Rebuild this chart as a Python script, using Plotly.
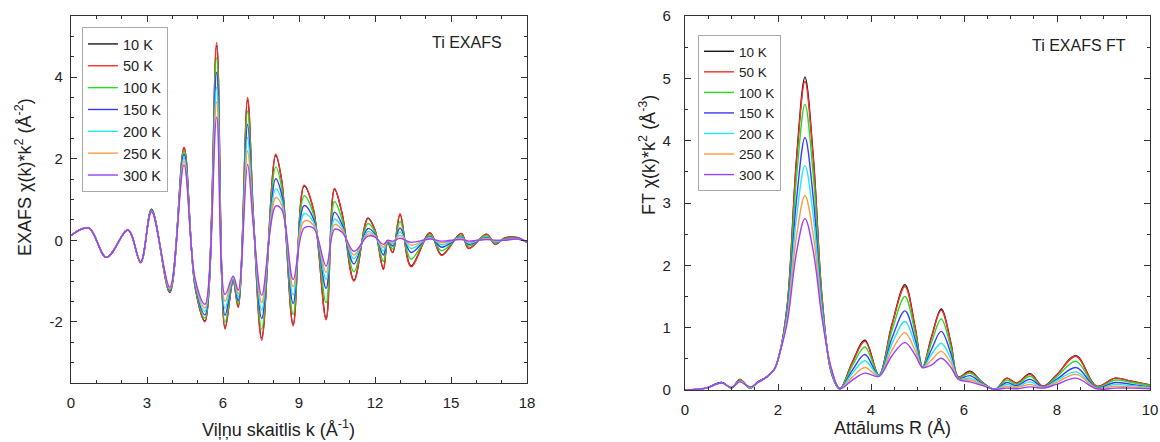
import plotly.graph_objects as go

# ---------------- data: EXAFS chi(k)*k^2 (extrema nodes) ----------------
k_values = [0.0, 0.7, 1.4, 2.25, 2.75, 3.18, 3.9, 4.46, 4.9, 5.29, 5.75, 6.08, 6.4, 6.6, 6.97, 7.2,
            7.53, 8.08, 8.32, 8.77, 9.2, 9.57, 10.07, 10.4, 10.7, 11.17, 11.72, 12.0, 12.33, 12.5,
            12.7, 12.99, 13.42, 14.17, 14.63, 15.4, 15.7, 16.4, 16.75, 17.1, 17.6, 18.0]

exafs_10K = [0.12, 0.30, -0.42, 0.25, -0.55, 0.76, -1.28, 2.26, -1.15, -1.98, 4.78, -2.15, -1.0, -1.63,
             3.45, 0.6, -2.4, 2.08, 1.45, -2.06, 1.33, 0.75, -1.92, 1.25, 0.66, -0.98, 0.54, 0.25,
             -0.7, -0.05, -0.3, 0.63, -0.63, 0.18, -0.36, 0.17, -0.2, 0.15, -0.1, 0.05, 0.07, -0.05]
exafs_50K = [0.12, 0.30, -0.42, 0.25, -0.55, 0.76, -1.28, 2.28, -1.15, -2.0, 4.85, -2.18, -1.0, -1.65,
             3.5, 0.6, -2.45, 2.12, 1.45, -2.1, 1.35, 0.75, -1.95, 1.27, 0.66, -1.0, 0.55, 0.25,
             -0.72, -0.05, -0.3, 0.65, -0.65, 0.18, -0.37, 0.17, -0.2, 0.15, -0.1, 0.05, 0.07, -0.05]
exafs_100K = [0.12, 0.30, -0.42, 0.25, -0.54, 0.75, -1.25, 2.19, -1.11, -1.91, 4.48, -2.01, -0.98, -1.56,
              3.17, 0.54, -2.18, 1.80, 1.28, -1.82, 1.09, 0.64, -1.53, 0.95, 0.51, -0.77, 0.41, 0.20,
              -0.52, -0.03, -0.21, 0.46, -0.46, 0.13, -0.26, 0.12, -0.14, 0.11, -0.07, 0.03, 0.06, -0.04]
exafs_150K = [0.12, 0.30, -0.42, 0.25, -0.54, 0.74, -1.23, 2.11, -1.07, -1.83, 4.12, -1.84, -0.95, -1.48,
              2.84, 0.48, -1.92, 1.51, 1.11, -1.55, 0.85, 0.53, -1.18, 0.69, 0.39, -0.58, 0.29, 0.15,
              -0.36, -0.02, -0.14, 0.30, -0.30, 0.09, -0.17, 0.08, -0.10, 0.07, -0.04, 0.02, 0.05, -0.04]
exafs_200K = [0.12, 0.30, -0.42, 0.25, -0.53, 0.72, -1.20, 2.02, -1.03, -1.74, 3.75, -1.67, -0.93, -1.39,
              2.52, 0.43, -1.71, 1.26, 0.98, -1.34, 0.65, 0.45, -0.96, 0.52, 0.32, -0.45, 0.21, 0.12,
              -0.26, -0.01, -0.09, 0.20, -0.20, 0.07, -0.11, 0.06, -0.07, 0.05, -0.03, 0.01, 0.04, -0.04]
exafs_250K = [0.12, 0.30, -0.42, 0.25, -0.53, 0.71, -1.18, 1.94, -0.99, -1.66, 3.39, -1.50, -0.90, -1.31,
              2.19, 0.39, -1.53, 1.05, 0.86, -1.14, 0.47, 0.37, -0.79, 0.39, 0.26, -0.36, 0.15, 0.10,
              -0.17, -0.01, -0.05, 0.12, -0.12, 0.05, -0.06, 0.04, -0.04, 0.04, -0.01, 0.01, 0.03, -0.03]
exafs_300K = [0.12, 0.30, -0.42, 0.25, -0.52, 0.70, -1.15, 1.85, -0.95, -1.57, 3.02, -1.33, -0.88, -1.22,
              1.86, 0.35, -1.35, 0.84, 0.75, -0.96, 0.30, 0.30, -0.63, 0.27, 0.20, -0.27, 0.10, 0.08,
              -0.10, 0.0, -0.02, 0.05, -0.05, 0.03, -0.02, 0.02, -0.02, 0.02, 0.0, 0.0, 0.03, -0.03]

# ---------------- data: FT magnitude ----------------
r_values = [0.0, 0.45, 0.79, 1.0, 1.18, 1.4, 1.57, 1.76, 1.92, 2.04, 2.2, 2.4, 2.58, 2.76, 2.95, 3.15,
            3.33, 3.6, 3.87, 4.17, 4.45, 4.73, 4.95, 5.11, 5.3, 5.51, 5.72, 5.88, 6.13, 6.4, 6.67,
            6.92, 7.13, 7.42, 7.7, 7.99, 8.41, 8.85, 9.25, 9.6, 10.0]

ft_10K = [0.0, 0.03, 0.12, 0.03, 0.17, 0.03, 0.13, 0.21, 0.33, 0.6, 1.37, 3.73, 5.02, 3.73, 1.46, 0.27,
          0.02, 0.45, 0.80, 0.24, 1.05, 1.69, 1.0, 0.37, 0.85, 1.30, 0.75, 0.21, 0.30, 0.12, 0.01,
          0.19, 0.11, 0.26, 0.06, 0.24, 0.55, 0.06, 0.19, 0.14, 0.08]
ft_50K = [0.0, 0.03, 0.12, 0.03, 0.17, 0.03, 0.13, 0.21, 0.33, 0.6, 1.36, 3.69, 4.95, 3.69, 1.45, 0.27,
          0.02, 0.44, 0.78, 0.24, 1.04, 1.66, 0.99, 0.37, 0.84, 1.28, 0.74, 0.21, 0.29, 0.12, 0.01,
          0.19, 0.11, 0.25, 0.06, 0.24, 0.54, 0.06, 0.19, 0.14, 0.08]
ft_100K = [0.0, 0.03, 0.12, 0.03, 0.16, 0.03, 0.13, 0.21, 0.33, 0.6, 1.31, 3.43, 4.58, 3.43, 1.40, 0.28,
           0.02, 0.39, 0.69, 0.24, 0.95, 1.50, 0.91, 0.37, 0.76, 1.14, 0.67, 0.20, 0.27, 0.11, 0.01,
           0.16, 0.09, 0.22, 0.05, 0.21, 0.46, 0.05, 0.16, 0.12, 0.07]
ft_150K = [0.0, 0.03, 0.12, 0.04, 0.15, 0.04, 0.13, 0.21, 0.33, 0.6, 1.25, 3.07, 4.05, 3.07, 1.32, 0.30,
           0.02, 0.32, 0.57, 0.23, 0.83, 1.27, 0.81, 0.36, 0.65, 0.94, 0.58, 0.19, 0.23, 0.10, 0.01,
           0.12, 0.07, 0.17, 0.05, 0.17, 0.36, 0.04, 0.12, 0.09, 0.05]
ft_200K = [0.0, 0.03, 0.11, 0.04, 0.14, 0.04, 0.12, 0.21, 0.33, 0.6, 1.19, 2.78, 3.60, 2.78, 1.26, 0.31,
           0.02, 0.27, 0.47, 0.23, 0.74, 1.10, 0.72, 0.36, 0.57, 0.75, 0.50, 0.18, 0.19, 0.09, 0.01,
           0.09, 0.05, 0.13, 0.04, 0.15, 0.29, 0.03, 0.09, 0.07, 0.04]
ft_250K = [0.0, 0.03, 0.11, 0.04, 0.14, 0.05, 0.12, 0.21, 0.33, 0.6, 1.14, 2.48, 3.12, 2.48, 1.19, 0.33,
           0.02, 0.21, 0.36, 0.22, 0.64, 0.92, 0.63, 0.36, 0.48, 0.62, 0.43, 0.18, 0.16, 0.08, 0.01,
           0.06, 0.04, 0.09, 0.04, 0.12, 0.25, 0.03, 0.06, 0.05, 0.03]
ft_300K = [0.0, 0.03, 0.11, 0.04, 0.13, 0.05, 0.12, 0.21, 0.33, 0.6, 1.09, 2.22, 2.75, 2.22, 1.14, 0.34,
           0.02, 0.16, 0.27, 0.22, 0.55, 0.76, 0.56, 0.36, 0.40, 0.51, 0.36, 0.17, 0.13, 0.07, 0.01,
           0.03, 0.02, 0.05, 0.03, 0.09, 0.19, 0.02, 0.03, 0.03, 0.02]

temperatures = ["10 K", "50 K", "100 K", "150 K", "200 K", "250 K", "300 K"]
colors = ["#1a1a1a", "#ff2a2a", "#22e022", "#3a3aff", "#22e8f5", "#ff9a40", "#9a40ff"]
exafs_series = [exafs_10K, exafs_50K, exafs_100K, exafs_150K, exafs_200K, exafs_250K, exafs_300K]
ft_series = [ft_10K, ft_50K, ft_100K, ft_150K, ft_200K, ft_250K, ft_300K]

exafs_ticks = [-2, 0, 2, 4]
exafs_ticktext = ["-2", "0", "2", "4"]

FONT = "Liberation Sans, Arial, sans-serif"
W, H = 1160, 442

fig = go.Figure()
for name, col, ys in zip(temperatures, colors, exafs_series):
    fig.add_trace(go.Scatter(x=k_values, y=ys, name=name, mode="lines",
                             line=dict(color=col, width=1.4, shape="spline", smoothing=1.0),
                             xaxis="x", yaxis="y", legend="legend"))
for name, col, ys in zip(temperatures, colors, ft_series):
    fig.add_trace(go.Scatter(x=r_values, y=ys, name=name, mode="lines",
                             line=dict(color=col, width=1.4, shape="spline", smoothing=1.0),
                             xaxis="x2", yaxis="y2", legend="legend2"))


def ax(domain, rng, dtick, minor_dtick, **kw):
    d = dict(domain=domain, range=rng, dtick=dtick, tick0=0, showline=True, linecolor="#333",
             linewidth=1.2, mirror="allticks", ticks="inside", ticklen=6, tickwidth=1.2,
             tickcolor="#333", showgrid=False, zeroline=False, automargin=False,
             minor=dict(ticks="inside", ticklen=3, dtick=minor_dtick, tickcolor="#333", tickwidth=1),
             tickfont=dict(family=FONT, size=15, color="#222"))
    d.update(kw)
    return d


px = lambda x: x / W
py = lambda y: 1 - y / H

fig.update_layout(
    width=W, height=H, margin=dict(l=0, r=0, t=0, b=0, autoexpand=False),
    paper_bgcolor="white", plot_bgcolor="white",
    xaxis=ax([px(71), px(527)], [0, 18], 3, 1, anchor="y", ticklabelstandoff=6),
    yaxis=ax([py(383), py(16)], [-3.5, 5.5], 2, 0.5, anchor="x", ticklabelstandoff=4,
             tickmode="array", tickvals=exafs_ticks, ticktext=exafs_ticktext),
    xaxis2=ax([px(685), px(1150)], [0, 10], 2, 0.5, anchor="y2", ticklabelstandoff=6),
    yaxis2=ax([py(390), py(16)], [0, 6], 1, 0.5, anchor="x2", ticklabelstandoff=10),
    legend=dict(x=px(82), y=py(27), xanchor="left", yanchor="top", bgcolor="white",
                bordercolor="#aaa", borderwidth=1, font=dict(family=FONT, size=14.5, color="#222"),
                tracegroupgap=0),
    legend2=dict(x=px(698), y=py(35), xanchor="left", yanchor="top", bgcolor="white",
                 bordercolor="#aaa", borderwidth=1, font=dict(family=FONT, size=13.5, color="#222"),
                 tracegroupgap=0),
    showlegend=True,
)

annots = [
    dict(text="Ti EXAFS", x=px(504), y=py(42), xanchor="right", yanchor="middle", size=16, angle=0),
    dict(text="Ti EXAFS FT", x=px(1128), y=py(46), xanchor="right", yanchor="middle", size=16, angle=0),
    dict(text="Viļņu skaitlis k (Å<sup>-1</sup>)", x=px(278), y=py(428), xanchor="center",
         yanchor="middle", size=18, angle=0),
    dict(text="Attālums R (Å)", x=px(892), y=py(428), xanchor="center", yanchor="middle", size=18, angle=0),
    dict(text="EXAFS χ(k)*k<sup>2</sup> (Å<sup>-2</sup>)", x=px(23), y=py(177), xanchor="center",
         yanchor="middle", size=18, angle=-90),
    dict(text="FT χ(k)*k<sup>2</sup> (Å<sup>-3</sup>)", x=px(647), y=py(155), xanchor="center",
         yanchor="middle", size=18, angle=-90),
]
for a in annots:
    fig.add_annotation(text=a["text"], x=a["x"], y=a["y"], xref="paper", yref="paper",
                       xanchor=a["xanchor"], yanchor=a["yanchor"], showarrow=False,
                       textangle=a["angle"], font=dict(family=FONT, size=a["size"], color="#222"))

fig.write_html("out.html", config={"displayModeBar": False},
               post_script="document.body.style.margin='0px';document.body.style.padding='0px';")
